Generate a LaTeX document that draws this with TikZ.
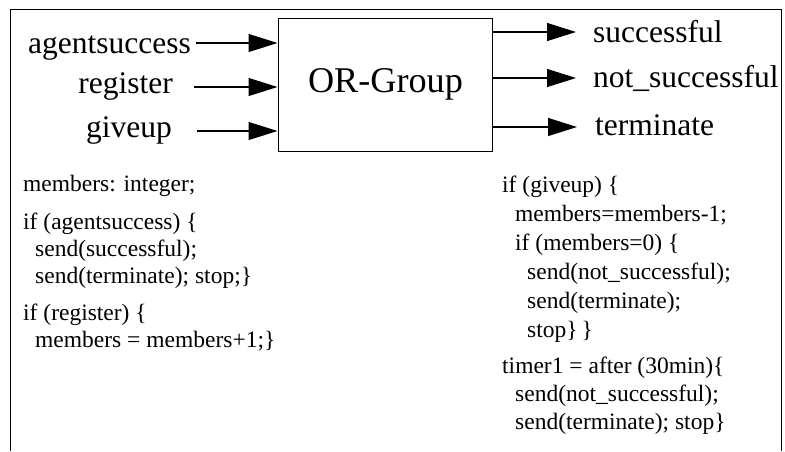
\documentclass[tikz,border=0pt]{standalone}
\usepackage{fontspec}
\setmainfont{Liberation Serif}
\usetikzlibrary{arrows.meta}
\begin{document}
\begin{tikzpicture}[x=1pt,y=-1pt,
  lbl/.style={inner sep=0pt,anchor=base west,font=\fontsize{31.5}{36}\selectfont},
  lblr/.style={inner sep=0pt,anchor=base east,font=\fontsize{31.5}{36}\selectfont},
  code/.style={inner sep=0pt,anchor=base west,font=\fontsize{23.5}{28}\selectfont},
  arr/.style={line width=1.2pt,-{Triangle[length=29pt,width=18pt]}},
  frame/.style={line width=1pt}]
\useasboundingbox (0,0) rectangle (785,451);
% outer frame (open at bottom)
\coordinate (fbl) at (10,451);
\coordinate (ftl) at (10,9);
\coordinate (ftr) at (781,9);
\coordinate (fbr) at (781,451);
\draw[frame] (fbl) -- (ftl) -- (ftr) -- (fbr);
% main box
\node[draw,line width=1pt,inner sep=0pt,minimum width=214pt,minimum height=133pt] (box) at (385,84.5) {};
\node[inner sep=0pt,anchor=base,font=\fontsize{36.2}{42}\selectfont] (title) at (385.5,92) {OR-Group};
% inputs
\node[lblr] (in1) at (191,53) {agentsuccess};
\node[lblr] (in2) at (173,93) {register};
\node[lblr] (in3) at (172,137) {giveup};
\coordinate (s1) at (196,43);
\coordinate (s2) at (194,87);
\coordinate (s3) at (197,131);
\draw[arr] (s1) -- (s1 -| box.west);
\draw[arr] (s2) -- (s2 -| box.west);
\draw[arr] (s3) -- (s3 -| box.west);
% outputs
\node[lbl] (out1) at (593,42) {successful};
\node[lbl] (out2) at (593,87) {not\_successful};
\node[lbl] (out3) at (595,135) {terminate};
\coordinate (o1) at (576,32);
\coordinate (o2) at (576,78);
\coordinate (o3) at (577,127);
\draw[arr] (o1 -| box.east) -- (o1);
\draw[arr] (o2 -| box.east) -- (o2);
\draw[arr] (o3 -| box.east) -- (o3);
% left code
\node[code] (l1) at (23,191) {members: integer;};
\node[code] (l2) at (23,229) {if (agentsuccess) \{};
\node[code] (l3) at (35,256) {send(successful);};
\node[code] (l4) at (35,283) {send(terminate); stop;\}};
\node[code] (l5) at (23,320) {if (register) \{};
\node[code] (l6) at (35,347) {members = members+1;\}};
% right code
\node[code] (r1) at (502,192) {if (giveup) \{};
\node[code] (r2) at (515,221) {members=members-1;};
\node[code] (r3) at (515,250) {if (members=0) \{};
\node[code] (r4) at (527,279) {send(not\_successful);};
\node[code] (r5) at (527,308) {send(terminate);};
\node[code] (r6) at (527,337) {stop\}\,\}};
\node[code] (r7) at (502,373) {timer1 = after (30min)\{};
\node[code] (r8) at (515,401) {send(not\_successful);};
\node[code] (r9) at (515,429) {send(terminate); stop\}};
\end{tikzpicture}
\end{document}
